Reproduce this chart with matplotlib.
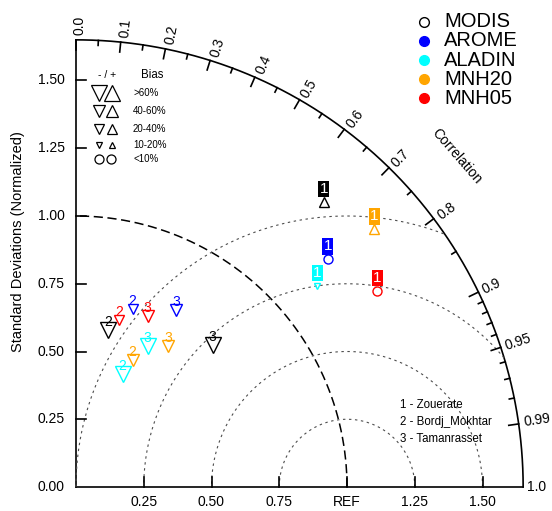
import numpy as np
import matplotlib
matplotlib.use("Agg")
import matplotlib.pyplot as plt

plt.rcParams['font.family'] = ['Liberation Sans', 'DejaVu Sans']

models = ["MODIS", "AROME", "ALADIN", "MNH20", "MNH05"]
colors = ["black", "#0000ff", "#00ffff", "#ffa500", "#ff0000"]
stations = ["Zouerate", "Bordj_Mokhtar", "Tamanrasset"]

# normalized std and correlation, one row per station, one column per model
std = np.array([[1.394, 1.253, 1.159, 1.455, 1.326],
                [0.591, 0.688, 0.451, 0.513, 0.636],
                [0.727, 0.750, 0.583, 0.622, 0.684]])
cor = np.array([[0.656, 0.742, 0.768, 0.757, 0.838],
                [0.201, 0.304, 0.381, 0.407, 0.251],
                [0.693, 0.491, 0.453, 0.548, 0.386]])
# bias in percent (sign gives up/down triangle)
bias = np.array([[30, 5, -15, 30, 5],
                 [-65, -30, -65, -50, -30],
                 [-65, -50, -65, -50, -50]])

bias_labels = [">60%", "40-60%", "20-40%", "10-20%", "<10%"]
bias_sizes = [11, 9, 6.8, 4, 6.5]

corr_major = [0.0, 0.1, 0.2, 0.3, 0.4, 0.5, 0.6, 0.7, 0.8, 0.9, 0.95, 0.99]
corr_minor = [0.05, 0.15, 0.25, 0.35, 0.45, 0.55, 0.65, 0.75, 0.85,
              0.91, 0.92, 0.93, 0.94, 0.96, 0.97, 0.98]
sd_ticks = [0.25, 0.5, 0.75, 1.0, 1.25, 1.5]
sd_labels = ["0.25", "0.50", "0.75", "REF", "1.25", "1.50"]
y_labels = ["0.00", "0.25", "0.50", "0.75", "1.00", "1.25", "1.50"]
rms_radii = [0.25, 0.5, 0.75, 1.0]
rmax = 1.65

S = 271.0  # pixels per unit
X0, Y0 = 76.0, 487.0


def P(xp, yp):
    return (xp - X0) / S, (Y0 - yp) / S


def marker_for(b):
    a = abs(b)
    if a < 10:
        return "o", bias_sizes[4]
    if a < 20:
        k = 3
    elif a < 40:
        k = 2
    elif a < 60:
        k = 1
    else:
        k = 0
    return ("^" if b > 0 else "v"), bias_sizes[k]


fig = plt.figure(figsize=(5.52, 5.11), dpi=100)
ax = fig.add_axes([0, 0, 1, 1])
ax.set_xlim(-X0 / S, (552 - X0) / S)
ax.set_ylim(-(511 - Y0) / S, Y0 / S)
ax.axis("off")

# outer frame
t = np.linspace(0, np.pi / 2, 300)
ax.plot(rmax * np.cos(t), rmax * np.sin(t), color="black", lw=1.2)
ax.plot([0, 0], [0, rmax], color="black", lw=1.2)
ax.plot([0, rmax], [0, 0], color="black", lw=1.2)

# std = 1 dashed arc
ax.plot(np.cos(t), np.sin(t), color="black", lw=1.1, dashes=(6, 3))

# centred rms circles
tt = np.linspace(0, np.pi, 600)
for r in rms_radii:
    cx = 1 + r * np.cos(tt)
    cy = r * np.sin(tt)
    keep = np.hypot(cx, cy) <= rmax
    cx = np.where(keep, cx, np.nan)
    ax.plot(cx, cy, color="0.3", lw=0.8, dashes=(2.2, 3.2))

# correlation ticks and labels
tl_major = 10 / S
tl_minor = 5 / S
for c in corr_major:
    th = np.arccos(c)
    ax.plot([rmax * np.cos(th), (rmax - tl_major) * np.cos(th)],
            [rmax * np.sin(th), (rmax - tl_major) * np.sin(th)], color="black", lw=1.2)
    rl = rmax + 5 / S
    sh = (5 * np.sin(th) - 1.5) / S
    lx = rl * np.cos(th) + sh * np.sin(th)
    ly = rl * np.sin(th) - sh * np.cos(th)
    ax.text(lx, ly, "0.0" if c == 0 else "%g" % c,
            rotation=np.degrees(th), rotation_mode="anchor", ha="left", va="center",
            fontsize=10)
for c in corr_minor:
    th = np.arccos(c)
    ax.plot([rmax * np.cos(th), (rmax - tl_minor) * np.cos(th)],
            [rmax * np.sin(th), (rmax - tl_minor) * np.sin(th)], color="black", lw=1.2)
ax.text(rmax + 4 / S, 0, "1.0", ha="left", va="center", fontsize=10)
thc = np.arccos(0.755)
ax.text(1.86 * np.cos(thc), 1.86 * np.sin(thc), "Correlation", rotation=np.degrees(thc) - 90,
        rotation_mode="anchor", ha="center", va="center", fontsize=10)

# std axis ticks
for v, lab in zip(sd_ticks, sd_labels):
    ax.plot([v, v], [0, tl_major], color="black", lw=1.2)
    ax.text(v, -15 / S, lab, ha="center", va="center", fontsize=10)
for i, lab in enumerate(y_labels):
    v = i * 0.25
    if v > 0:
        ax.plot([0, tl_major], [v, v], color="black", lw=1.2)
    ax.text(-11 / S, v, lab, ha="right", va="center", fontsize=10)
ax.text(*P(18, 242), "Standard Deviations (Normalized)", rotation=90,
        ha="center", va="center", fontsize=10.5)

# data points
for s in range(len(stations)):
    for m in range(len(models)):
        x = std[s, m] * cor[s, m]
        y = std[s, m] * np.sin(np.arccos(cor[s, m]))
        mk, ms = marker_for(bias[s, m])
        ax.plot(x, y, marker=mk, ms=ms, mfc="none", mec=colors[m], mew=1.0, ls="none")
        if s == 0:
            ax.annotate(str(s + 1), (x, y), xytext=(0, 9.4), textcoords="offset points",
                        ha="center", va="center", fontsize=11, color="white",
                        bbox=dict(boxstyle="square,pad=0.08", fc=colors[m], ec="none"))
        else:
            ax.annotate(str(s + 1), (x, y), xytext=(0, 6), textcoords="offset points",
                        ha="center", va="center", fontsize=10, color=colors[m])

# model legend (top right)
for i, (name, col) in enumerate(zip(models, colors)):
    yp = 21.7 + i * 19.2
    mx, my = P(424, yp)
    ax.plot(mx, my, marker="o", ms=7, mec=col, mfc="none" if i == 0 else col,
            mew=1.0, ls="none")
    ax.text(*P(444, yp), name, ha="left", va="center", fontsize=14.5)

# bias legend
ax.text(*P(107.5, 75), "- / +", ha="center", va="center", fontsize=7.5)
ax.text(*P(152, 75), "Bias", ha="center", va="center", fontsize=8.3)
bias_rows = [93.3, 111.5, 129, 145, 159]
for k, lab in enumerate(bias_labels):
    yp = bias_rows[k]
    if k < 4:
        ax.plot(*P(99, yp), marker="v", ms=bias_sizes[k], mfc="none", mec="black", mew=0.9)
        ax.plot(*P(112, yp), marker="^", ms=bias_sizes[k], mfc="none", mec="black", mew=0.9)
    else:
        ax.plot(*P(98.5, yp), marker="o", ms=bias_sizes[k], mfc="none", mec="black", mew=0.9)
        ax.plot(*P(110.5, yp), marker="o", ms=bias_sizes[k], mfc="none", mec="black", mew=0.9)
    ax.text(*P(133, yp), lab, ha="left", va="center", fontsize=7)

# station legend
for i, name in enumerate(stations):
    ax.text(*P(400, 405 + i * 16.8), "%d - %s" % (i + 1, name), ha="left", va="center",
            fontsize=8.3)

fig.savefig("out.png", dpi=100)
